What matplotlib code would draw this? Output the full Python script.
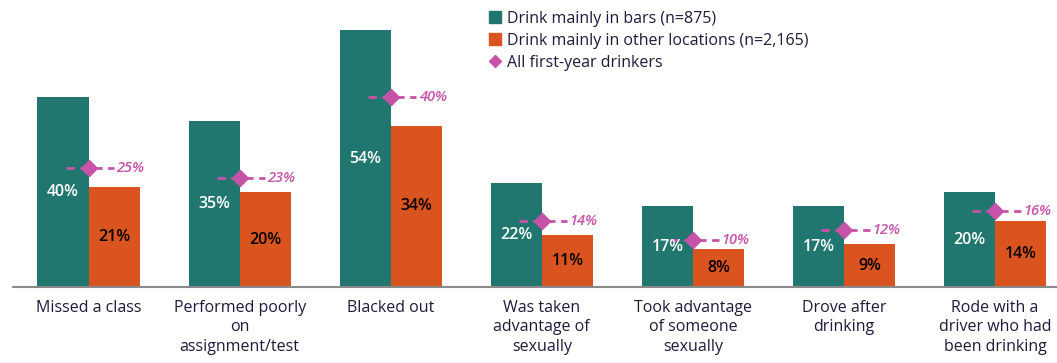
import numpy as np
import matplotlib.pyplot as plt
from matplotlib.patches import Patch
from matplotlib.lines import Line2D

categories = ["Missed a class", "Performed poorly\non\nassignment/test", "Blacked out",
              "Was taken\nadvantage of\nsexually", "Took advantage\nof someone\nsexually",
              "Drove after\ndrinking", "Rode with a\ndriver who had\nbeen drinking"]
bars_pct = [40, 35, 54, 22, 17, 17, 20]
other_pct = [21, 20, 34, 11, 8, 9, 14]
all_pct = [25, 23, 40, 14, 10, 12, 16]

teal = "#21776f"
orange = "#d9541e"
pink = "#c653a8"
ink = "#1c1c3a"

plt.rcParams['font.family'] = ['Open Sans', 'DejaVu Sans']

fig = plt.figure(figsize=(10.57, 3.63), dpi=100)
ax = fig.add_axes([0.0123, 0.209, 0.9877, 0.791])

x = np.arange(len(categories))
w = 0.338
ax.bar(x - w / 2, bars_pct, w, color=teal)
ax.bar(x + w / 2, other_pct, w, color=orange)

for i in range(len(x)):
    ax.text(x[i] - w / 2, bars_pct[i] / 2, f"{bars_pct[i]}%", ha="center", va="center",
            color="white", fontsize=11.5, fontweight="semibold")
    ax.text(x[i] + w / 2, other_pct[i] / 2, f"{other_pct[i]}%", ha="center", va="center",
            color="black", fontsize=11.5, fontweight="semibold")
    # dashed marker line for all drinkers
    ax.plot([x[i] - 0.15, x[i] + 0.17], [all_pct[i], all_pct[i]], color=pink, lw=2,
            linestyle=(0, (3, 2)))
    ax.plot(x[i], all_pct[i], marker="D", color=pink, markersize=8)
    ax.text(x[i] + 0.185, all_pct[i], f"{all_pct[i]}%", ha="left", va="center",
            color=pink, fontsize=10.5, fontstyle="italic", fontweight="semibold")

ax.set_xlim(-0.5, 6.41)
ax.set_ylim(0, 60.4)
ax.set_xticks(x)
ax.set_xticklabels(categories, fontsize=11.5, color=ink, linespacing=1.32, va="top")
ax.tick_params(axis="x", length=0, pad=9)
ax.set_yticks([])
for s in ["top", "right", "left"]:
    ax.spines[s].set_visible(False)
ax.spines["bottom"].set_color("#8a8a8a")
ax.spines["bottom"].set_linewidth(1.5)

handles = [Patch(color=teal), Patch(color=orange),
           Line2D([], [], marker="D", color=pink, lw=0, markersize=6)]
labels = ["Drink mainly in bars (n=875)", "Drink mainly in other locations (n=2,165)",
          "All first-year drinkers"]
fig.legend(handles, labels, loc="upper left", bbox_to_anchor=(0.449, 1.01), frameon=False,
           fontsize=11.5, labelcolor=ink, handlelength=0.75, handleheight=0.75,
           handletextpad=0.4, labelspacing=0.38)

fig.savefig("out.png", dpi=100)
